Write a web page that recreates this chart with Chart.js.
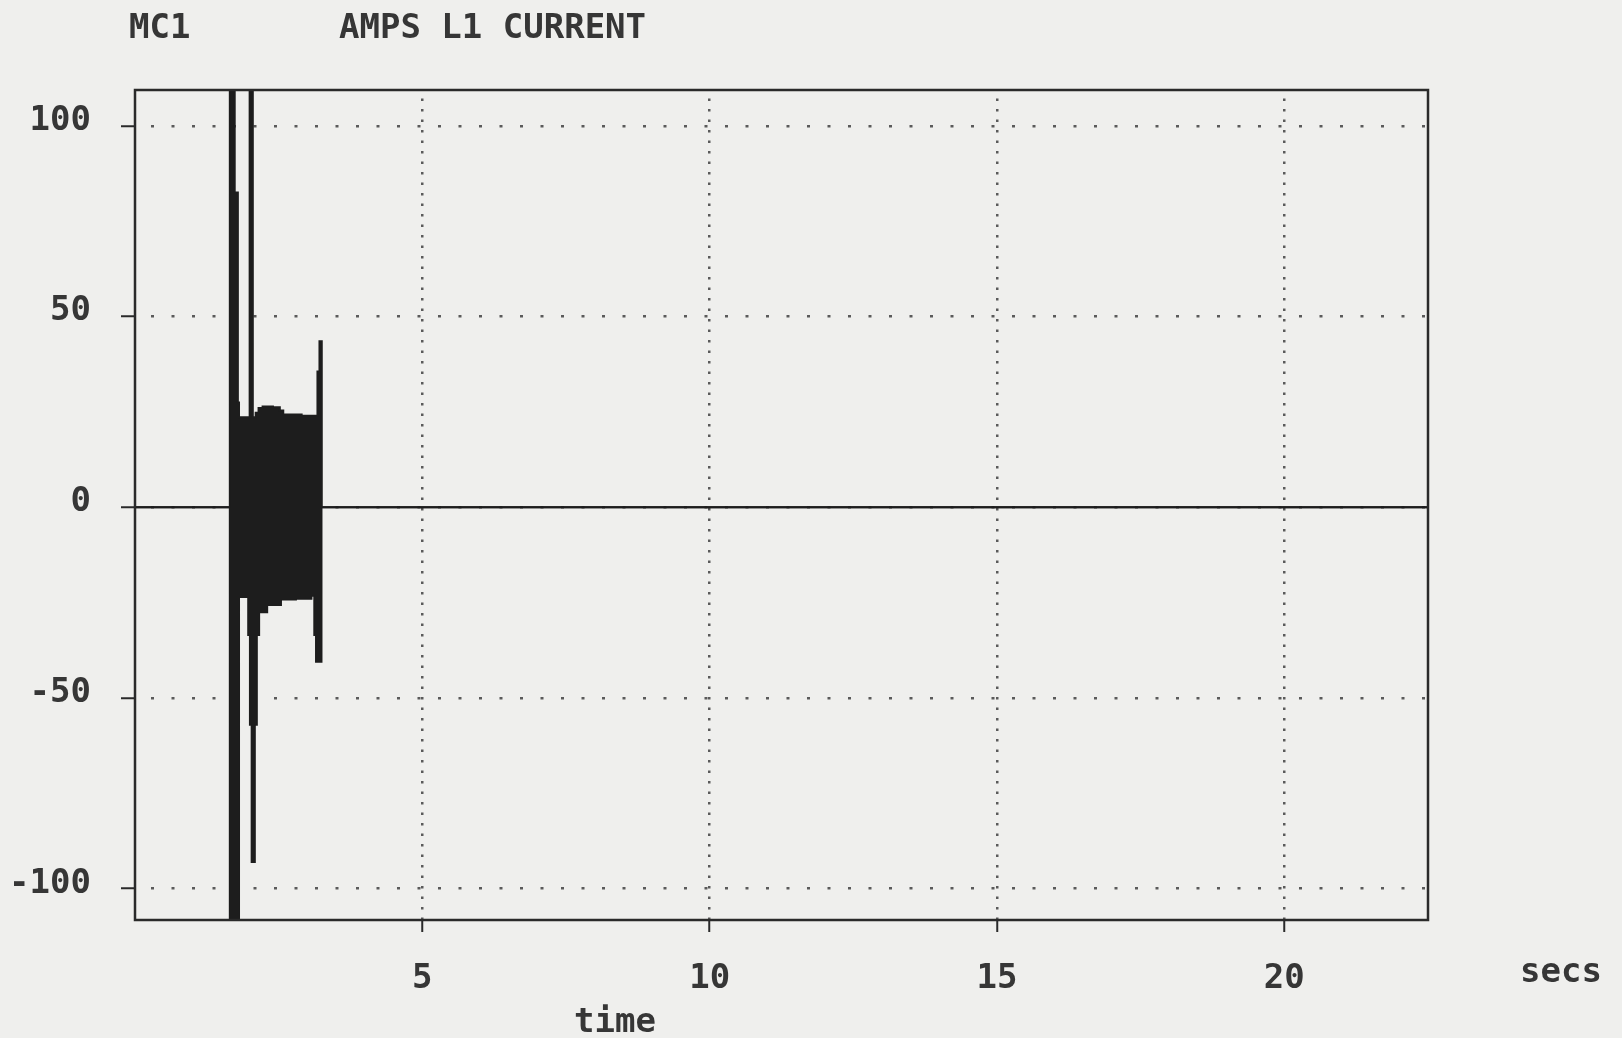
<!DOCTYPE html>
<html>
<head>
<meta charset="utf-8">
<script src="https://cdn.jsdelivr.net/npm/chart.js@4.4.0/dist/chart.umd.min.js"></script>
<style>
html, body { margin: 0; padding: 0; background: #efefed; }
canvas { display: block; }
</style>
</head>
<body>
<canvas id="c" width="1622" height="1038"></canvas>
<script>
// ---- text ----
const channelLabel = 'MC1';
const chartTitle = 'AMPS L1 CURRENT';
const xAxisLabel = 'time';
const xUnitLabel = 'secs';

// ---- tick values ----
const xTicks = [5, 10, 15, 20];
const yTicks = [-100, -50, 0, 50, 100];

// ---- L1 current trace (seconds, amps) ----
// upper envelope of the oscillation (value holds until the next time)
const upperTime = [0, 1.65, 1.735, 1.79, 1.81, 1.995, 2.05, 2.10, 2.15, 2.22, 2.40, 2.52, 2.58, 2.90, 3.175, 3.21, 3.25, 22.5];
const upperAmps = [0, 112, 82.5, 27.5, 23.6, 112, 23.6, 24.8, 26.0, 26.4, 26.2, 25.4, 24.3, 24.0, 35.6, 43.5, 0, 0];
// lower envelope of the oscillation
const lowerTime = [0, 1.65, 1.81, 1.97, 2.00, 2.03, 2.085, 2.12, 2.16, 2.30, 2.54, 2.80, 3.07, 3.12, 3.15, 3.245, 22.5];
const lowerAmps = [0, -112, -23.5, -33.5, -57, -93, -57, -33.5, -27.5, -25.6, -24.2, -24.0, -23.2, -33.5, -40.5, 0, 0];

const INK = '#1d1d1d';
const TEXT = '#363636';
const DOTS = '#5a5a5a';
const FONT = '"DejaVu Sans Mono", monospace';

const upperPts = upperTime.map((t, i) => ({ x: t, y: upperAmps[i] }));
const lowerPts = lowerTime.map((t, i) => ({ x: t, y: lowerAmps[i] }));

const decor = {
  id: 'decor',
  afterDatasetsDraw(chart) {
    const { ctx, chartArea: a } = chart;
    ctx.save();
    ctx.strokeStyle = '#2a2a2a';
    ctx.lineWidth = 2.5;
    ctx.strokeRect(a.left, a.top, a.right - a.left, a.bottom - a.top);
    ctx.restore();
  },
  afterDraw(chart) {
    const { ctx } = chart;
    ctx.save();
    ctx.fillStyle = TEXT;
    ctx.font = 'bold 34px ' + FONT;
    ctx.textBaseline = 'middle';
    ctx.textAlign = 'left';
    ctx.fillText(channelLabel, 129, 29);
    ctx.fillText(chartTitle, 339, 29);
    ctx.fillText(xUnitLabel, 1520, 973);
    ctx.fillText(xAxisLabel, 574, 1023);
    ctx.restore();
  }
};

new Chart(document.getElementById('c'), {
  type: 'line',
  data: {
    datasets: [
      {
        label: 'upper',
        data: upperPts,
        stepped: 'before',
        borderColor: INK,
        backgroundColor: INK,
        borderWidth: 2,
        pointRadius: 0,
        fill: '+1'
      },
      {
        label: 'lower',
        data: lowerPts,
        stepped: 'before',
        borderColor: INK,
        backgroundColor: INK,
        borderWidth: 2,
        pointRadius: 0,
        fill: false
      }
    ]
  },
  options: {
    responsive: false,
    animation: false,
    events: [],
    parsing: false,
    layout: { padding: { top: 90, right: 194, bottom: 0, left: 0 } },
    plugins: { legend: { display: false }, tooltip: { enabled: false }, title: { display: false } },
    scales: {
      x: {
        type: 'linear',
        min: 0,
        max: 22.5,
        afterBuildTicks: s => { s.ticks = xTicks.map(v => ({ value: v })); },
        afterFit: s => { s.height = 118; },
        ticks: {
          color: TEXT,
          font: { family: FONT, size: 34, weight: 'bold' },
          padding: 27,
          maxRotation: 0,
          autoSkip: false,
          callback: v => String(v)
        },
        grid: {
          color: DOTS,
          lineWidth: 2.5,
          tickLength: 12,
          tickColor: '#2a2a2a',
          tickWidth: 2
        },
        border: { display: false, dash: [2.5, 8], dashOffset: 2 }
      },
      y: {
        type: 'linear',
        min: -108.2,
        max: 109.4,
        afterBuildTicks: s => { s.ticks = yTicks.map(v => ({ value: v })); },
        afterFit: s => { s.width = 135; },
        ticks: {
          color: TEXT,
          font: { family: FONT, size: 34, weight: 'bold' },
          padding: 30,
          labelOffset: -5,
          autoSkip: false,
          callback: v => String(v)
        },
        grid: {
          color: DOTS,
          lineWidth: 2.5,
          tickLength: 14,
          tickColor: '#2a2a2a',
          tickWidth: 2
        },
        border: { display: false, dash: [3, 17.5], dashOffset: 4.5 }
      }
    }
  },
  plugins: [decor]
});
</script>
</body>
</html>
